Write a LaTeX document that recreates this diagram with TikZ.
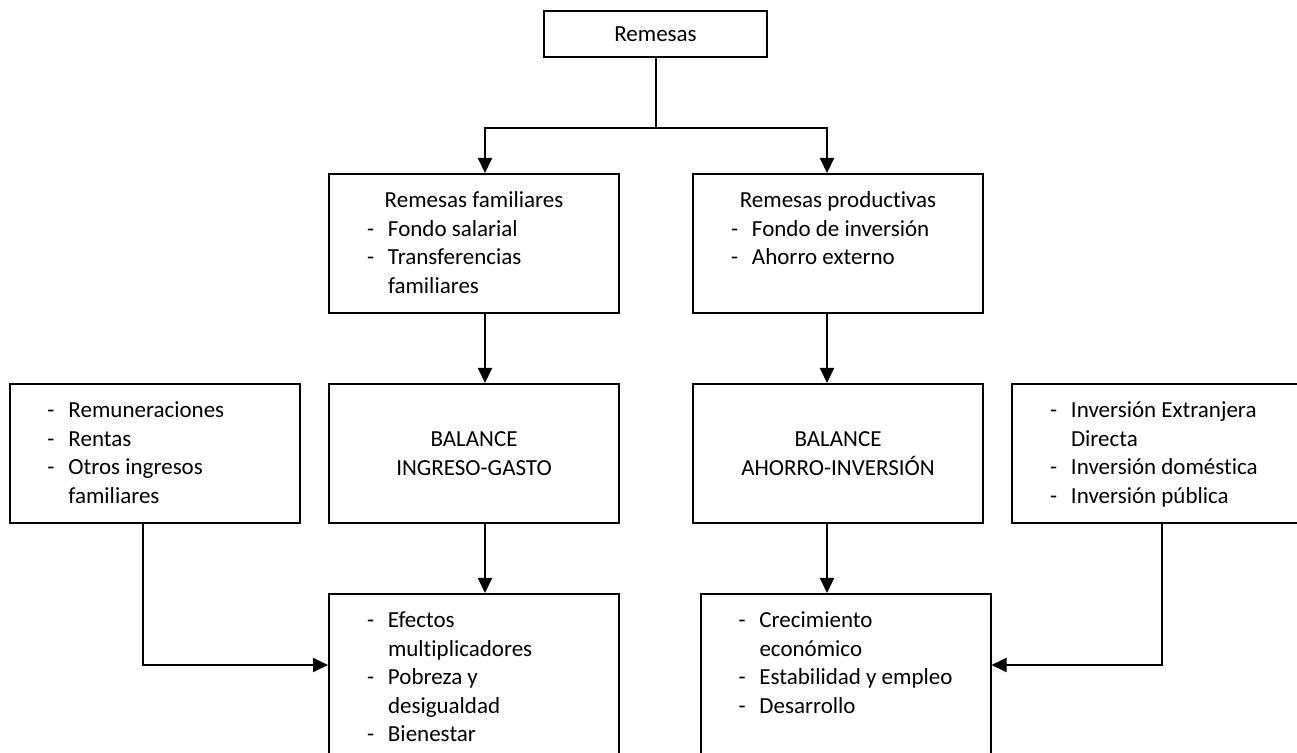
\documentclass[tikz,border=0pt]{standalone}
\usepackage{fontspec}
\setmainfont{Carlito}[Ligatures=NoCommon]
\usepackage{tikz}
\usetikzlibrary{arrows.meta}
\newcommand\itm[1]{\par\leftskip=19pt\rightskip=0pt plus 1fil\parfillskip=0pt plus 1fil
  \hangindent=10.5pt\hangafter=1\noindent\strut\makebox[10.5pt][l]{-}#1\par}
\newcommand\ttl[1]{\par{\centering\strut #1\par}}
\newcommand\lbox[2]{\parbox[c][#1][t]{145pt}{\vspace*{7pt}#2}}
\tikzset{
  box/.style={draw, line width=1pt, inner sep=0pt, minimum width=145pt,
    minimum height=69.5pt, align=center, font=\fontsize{11.5}{14.2}\selectfont},
  arr/.style={-{Triangle[length=7.5pt,width=7pt]}, line width=1pt},
}

\begin{document}
\begin{tikzpicture}[x=0.5pt, y=-0.5pt]
    \useasboundingbox (0,0) rectangle (1297,753);
    \clip (0,0) rectangle (1297,753);

    \node [box, minimum width=111.5pt, minimum height=23pt] (remesas) at (655.5,34) {Remesas};
    \node [box] (familiares) at (474,243.5)
      {\lbox{69.5pt}{\ttl{Remesas familiares}\itm{Fondo salarial}\itm{Transferencias\newline familiares}}};
    \node [box] (productivas) at (838,243.5)
      {\lbox{69.5pt}{\ttl{Remesas productivas}\itm{Fondo de inversión}\itm{Ahorro externo}}};

    \node [box] (ingresos) at (154.5,453.5)
      {\lbox{69.5pt}{\itm{Remuneraciones}\itm{Rentas}\itm{Otros ingresos\newline familiares}}};
    \node [box] (balIG) at (474,453.5) {BALANCE\\INGRESO-GASTO};
    \node [box] (balAI) at (838,453.5) {BALANCE\\AHORRO-INVERSIÓN};
    \node [box] (inversion) at (1157,453.5)
      {\lbox{69.5pt}{\itm{Inversión Extranjera\newline Directa}\itm{Inversión doméstica}\itm{Inversión pública}}};

    \node [box, minimum height=85pt] (efectos) at (474,679)
      {\lbox{85pt}{\itm{Efectos\newline multiplicadores}\itm{Pobreza y\newline desigualdad}\itm{Bienestar}}};
    \node [box, minimum height=85pt] (crecimiento) at (845.5,679)
      {\lbox{85pt}{\itm{Crecimiento\newline económico}\itm{Estabilidad y empleo}\itm{Desarrollo}}};

    \coordinate (split) at ([yshift=-35pt]remesas.south);
    \draw [line width=1pt] (remesas.south) -- (split);
    \draw [arr] (split) -| ([xshift=5.5pt]familiares.north);
    \draw [arr] (split) -| ([xshift=-5.5pt]productivas.north);
    \draw [arr] ([xshift=5.5pt]familiares.south) -- ([xshift=5.5pt]balIG.north);
    \draw [arr] ([xshift=-5.5pt]productivas.south) -- ([xshift=-5.5pt]balAI.north);
    \draw [arr] ([xshift=5.5pt]balIG.south) -- ([xshift=5.5pt]efectos.north);
    \draw [arr] ([xshift=-5.5pt]balAI.south) -- ([xshift=-9.25pt]crecimiento.north);
    \draw [arr] ([xshift=-5.75pt]ingresos.south) |- ([yshift=7pt]efectos.west);
    \draw [arr] ([xshift=2.5pt]inversion.south) |- ([yshift=7pt]crecimiento.east);
  \end{tikzpicture}
\end{document}
